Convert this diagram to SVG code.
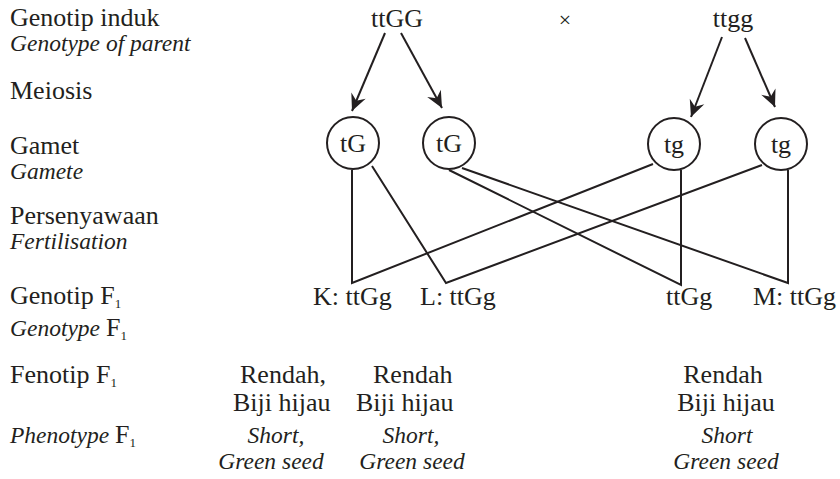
<svg xmlns="http://www.w3.org/2000/svg" width="840" height="479" viewBox="0 0 840 479">
<style>
text{font-family:"Liberation Serif","Times New Roman",serif;fill:#231f20;}
.r{font-size:26px;}
.i{font-size:23.5px;font-style:italic;}
.c{text-anchor:middle;}
.sub{font-size:13px;}
.ln{fill:none;stroke:#231f20;stroke-width:2;stroke-linejoin:miter;}
.circ{fill:#fff;stroke:#231f20;stroke-width:2;}
</style>
<defs>
<marker id="ah" markerUnits="userSpaceOnUse" markerWidth="20" markerHeight="20" viewBox="-16 -8 18 16" refX="0" refY="0" orient="auto">
<path d="M0,0 L-15,-7 L-10,0 L-15,7 Z" fill="#231f20"/>
</marker>
</defs>
<g id="labels">
<text class="r" x="10" y="26">Genotip induk</text>
<text class="i" x="10" y="51">Genotype of parent</text>
<text class="r" x="10" y="99">Meiosis</text>
<text class="r" x="10" y="154">Gamet</text>
<text class="i" x="10" y="179">Gamete</text>
<text class="r" x="10" y="224">Persenyawaan</text>
<text class="i" x="10" y="249">Fertilisation</text>
<text class="r" x="10" y="304">Genotip F<tspan class="sub" dy="4">1</tspan></text>
<text class="i" x="10" y="336">Genotype <tspan style="font-style:normal;font-size:26px">F</tspan><tspan class="sub" style="font-style:normal" dy="4">1</tspan></text>
<text class="r" x="10" y="383">Fenotip F<tspan class="sub" dy="4">1</tspan></text>
<text class="i" x="10" y="443">Phenotype <tspan style="font-style:normal;font-size:26px">F</tspan><tspan class="sub" style="font-style:normal" dy="4">1</tspan></text>
</g>
<g id="parents">
<text class="r c" x="397" y="27">ttGG</text>
<text class="r c" x="565" y="27" style="font-size:22px">×</text>
<text class="r c" x="733" y="27">ttgg</text>
</g>
<g id="connectors">
<line class="ln" x1="385" y1="33" x2="352" y2="111" marker-end="url(#ah)"/>
<line class="ln" x1="401" y1="33" x2="442" y2="108" marker-end="url(#ah)"/>
<line class="ln" x1="722" y1="37" x2="691" y2="117" marker-end="url(#ah)"/>
<line class="ln" x1="745" y1="38" x2="775" y2="107" marker-end="url(#ah)"/>
<polyline class="ln" points="352,170 352,283 653,164"/>
<polyline class="ln" points="372,166 446,283 762,165"/>
<polyline class="ln" points="449,170 681,285 681,170"/>
<polyline class="ln" points="462,168 788,283 788,170"/>
</g>
<g id="gamete1"><circle class="circ" cx="353" cy="143" r="26"/><text class="r c" x="353" y="152">tG</text></g>
<g id="gamete2"><circle class="circ" cx="449" cy="143" r="26"/><text class="r c" x="449" y="152">tG</text></g>
<g id="gamete3"><circle class="circ" cx="674" cy="144" r="26"/><text class="r c" x="674" y="153">tg</text></g>
<g id="gamete4"><circle class="circ" cx="781" cy="144" r="26"/><text class="r c" x="781" y="153">tg</text></g>
<g id="f1">
<text class="r" x="313" y="305">K: ttGg</text>
<text class="r" x="420" y="305">L: ttGg</text>
<text class="r" x="666" y="305">ttGg</text>
<text class="r" x="753" y="305">M: ttGg</text>
</g>
<g id="phenotypes">
<text class="r" x="240" y="383">Rendah,</text>
<text class="r" x="233" y="411">Biji hijau</text>
<text class="i c" x="276" y="443">Short,</text>
<text class="i c" x="271" y="469">Green seed</text>
<text class="r" x="373" y="383">Rendah</text>
<text class="r" x="356" y="411">Biji hijau</text>
<text class="i c" x="411" y="443">Short,</text>
<text class="i c" x="412" y="469">Green seed</text>
<text class="r c" x="723" y="383">Rendah</text>
<text class="r c" x="726" y="411">Biji hijau</text>
<text class="i c" x="727" y="443">Short</text>
<text class="i c" x="726" y="469">Green seed</text>
</g>
</svg>
